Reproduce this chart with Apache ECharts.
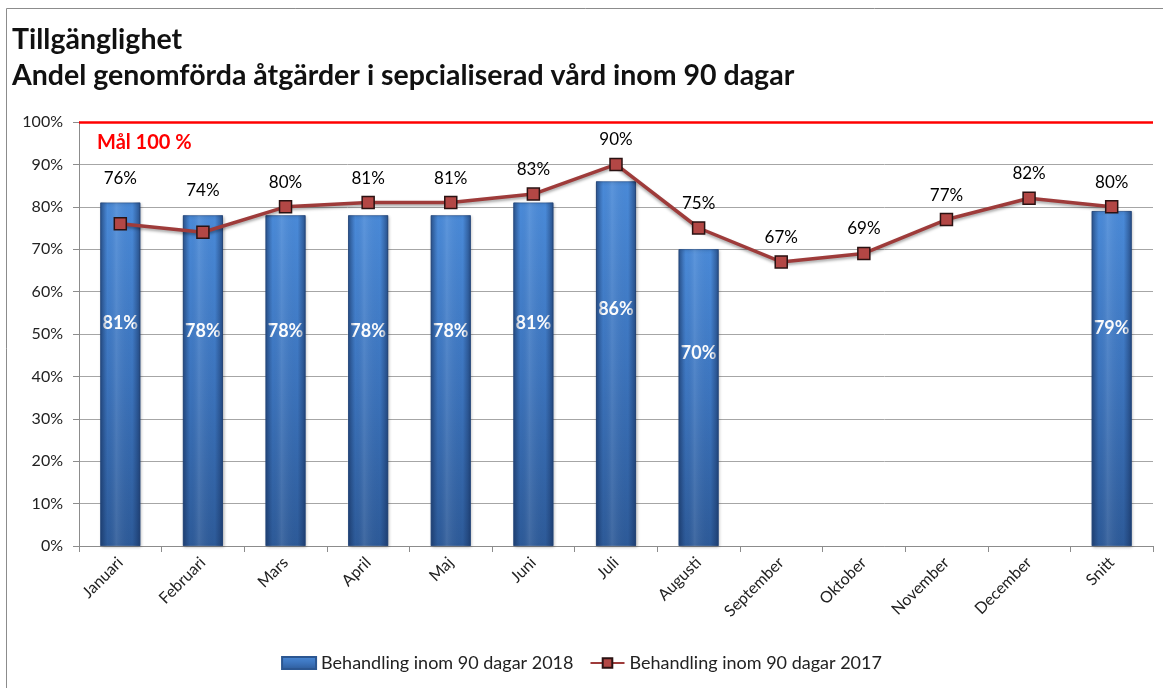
<!DOCTYPE html>
<html>
<head>
<meta charset="utf-8">
<script src="https://cdn.jsdelivr.net/npm/echarts@6/dist/echarts.min.js"></script>
<style>
html,body{margin:0;padding:0;background:#fff;}
#chart{width:1163px;height:688px;}
</style>
</head>
<body>
<div id="chart"></div>
<script>
const categories = ['Januari','Februari','Mars','April','Maj','Juni','Juli','Augusti','September','Oktober','November','December','Snitt'];
const values2018 = [81, 78, 78, 78, 78, 81, 86, 70, null, null, null, null, 79];
const values2017 = [76, 74, 80, 81, 81, 83, 90, 75, 67, 69, 77, 82, 80];
const yTicks = [0, 10, 20, 30, 40, 50, 60, 70, 80, 90, 100];
const goal = 100;
const name2018 = 'Behandling inom 90 dagar 2018';
const name2017 = 'Behandling inom 90 dagar 2017';
const titleLines = ['Tillgänglighet', 'Andel genomförda åtgärder i sepcialiserad vård inom 90 dagar'];
const goalText = 'Mål 100 %';

const FONT = 'Lato, "Open Sans", sans-serif';
const labelAnchor = values2017.map((v, i) => Math.max(v, values2018[i] == null ? 0 : values2018[i]));

const barFill = new echarts.graphic.LinearGradient(0, 0, 0, 1, [
  {offset: 0, color: '#4a8ad8'},
  {offset: 0.5, color: '#3c74bd'},
  {offset: 1, color: '#2d5a98'}
]);
const barEdge = new echarts.graphic.LinearGradient(0, 0, 1, 0, [
  {offset: 0, color: 'rgba(20,45,90,0.55)'},
  {offset: 0.18, color: 'rgba(20,45,90,0.0)'},
  {offset: 0.4, color: 'rgba(255,255,255,0.10)'},
  {offset: 0.8, color: 'rgba(20,45,90,0.0)'},
  {offset: 1, color: 'rgba(20,45,90,0.6)'}
]);

const chart = echarts.init(document.getElementById('chart'));
chart.setOption({
  animation: false,
  backgroundColor: '#ffffff',
  textStyle: {fontFamily: FONT},
  graphic: [
    {type: 'rect', shape: {x: 6.5, y: 8.5, width: 1200, height: 720}, style: {fill: 'none', stroke: '#8c8c8c', lineWidth: 1}, silent: true},
    {type: 'text', left: 12, top: 25, style: {text: titleLines[0], font: 'bold 28.5px ' + FONT, fill: '#111'}},
    {type: 'text', left: 12, top: 61, style: {text: titleLines[1], font: 'bold 28.5px ' + FONT, fill: '#111'}},
    {type: 'text', left: 97, top: 133, style: {text: goalText, font: 'bold 20px ' + FONT, fill: '#ff0000'}}
  ],
  grid: {left: 79, right: 10, top: 122, bottom: 142, containLabel: false},
  legend: {
    bottom: 11,
    left: 'center',
    itemWidth: 34,
    itemHeight: 12,
    itemGap: 16,
    textStyle: {fontSize: 18, color: '#222', fontFamily: FONT},
    data: [
      {name: name2018, icon: 'rect'},
      {name: name2017}
    ]
  },
  xAxis: {
    type: 'category',
    data: categories,
    boundaryGap: true,
    axisLine: {show: true, lineStyle: {color: '#8c8c8c', width: 1}},
    axisTick: {show: true, alignWithLabel: false, length: 6, lineStyle: {color: '#8c8c8c'}},
    axisLabel: {rotate: 45, fontSize: 16, color: '#222', margin: 14, fontFamily: FONT}
  },
  yAxis: {
    type: 'value',
    min: yTicks[0],
    max: yTicks[yTicks.length - 1],
    interval: 10,
    axisLine: {show: true, lineStyle: {color: '#8c8c8c'}},
    axisTick: {show: true, length: 6, lineStyle: {color: '#8c8c8c'}},
    axisLabel: {formatter: '{value}%', fontSize: 16, color: '#222', margin: 16, fontFamily: FONT},
    splitLine: {show: true, lineStyle: {color: '#a6a6a6', width: 1}}
  },
  series: [
    {
      name: name2018,
      type: 'bar',
      data: values2018,
      barWidth: 40,
      z: 2,
      itemStyle: {color: barFill, borderColor: '#2b5691', borderWidth: 0.8,
        shadowColor: 'rgba(0,0,0,0.25)', shadowBlur: 3, shadowOffsetX: 1, shadowOffsetY: 1},
      label: {
        show: true,
        position: ['50%', '35%'],
        align: 'center',
        verticalAlign: 'middle',
        color: '#ffffff',
        fontWeight: 'bold',
        fontSize: 18,
        fontFamily: FONT,
        formatter: p => p.value == null ? '' : p.value + '%'
      }
    },
    {
      name: name2018 + ' edge',
      type: 'bar',
      data: values2018,
      barWidth: 40,
      barGap: '-100%',
      z: 3,
      silent: true,
      itemStyle: {color: barEdge},
      label: {show: false}
    },
    {
      name: name2017,
      type: 'line',
      data: values2017,
      z: 5,
      symbol: 'rect',
      symbolSize: 12,
      color: '#b34745',
      lineStyle: {color: '#9e3b3a', width: 3.5, shadowColor: 'rgba(0,0,0,0.35)', shadowBlur: 3, shadowOffsetY: 2},
      itemStyle: {color: '#b34745', borderColor: '#2a1212', borderWidth: 1.5},
      label: {show: false},
      markLine: {
        silent: true,
        symbol: 'none',
        label: {show: false},
        lineStyle: {color: '#ff0000', width: 2.5, type: 'solid'},
        data: [{yAxis: goal}]
      }
    },
    {
      name: 'labels2017',
      type: 'scatter',
      data: labelAnchor,
      z: 6,
      symbol: 'circle',
      symbolSize: 2,
      silent: true,
      itemStyle: {color: 'rgba(255,255,255,0)'},
      label: {
        show: true,
        position: 'top',
        distance: 15,
        color: '#000',
        opacity: 1,
        fontSize: 17,
        fontFamily: FONT,
        formatter: p => values2017[p.dataIndex] + '%'
      }
    }
  ]
});
</script>
</body>
</html>
